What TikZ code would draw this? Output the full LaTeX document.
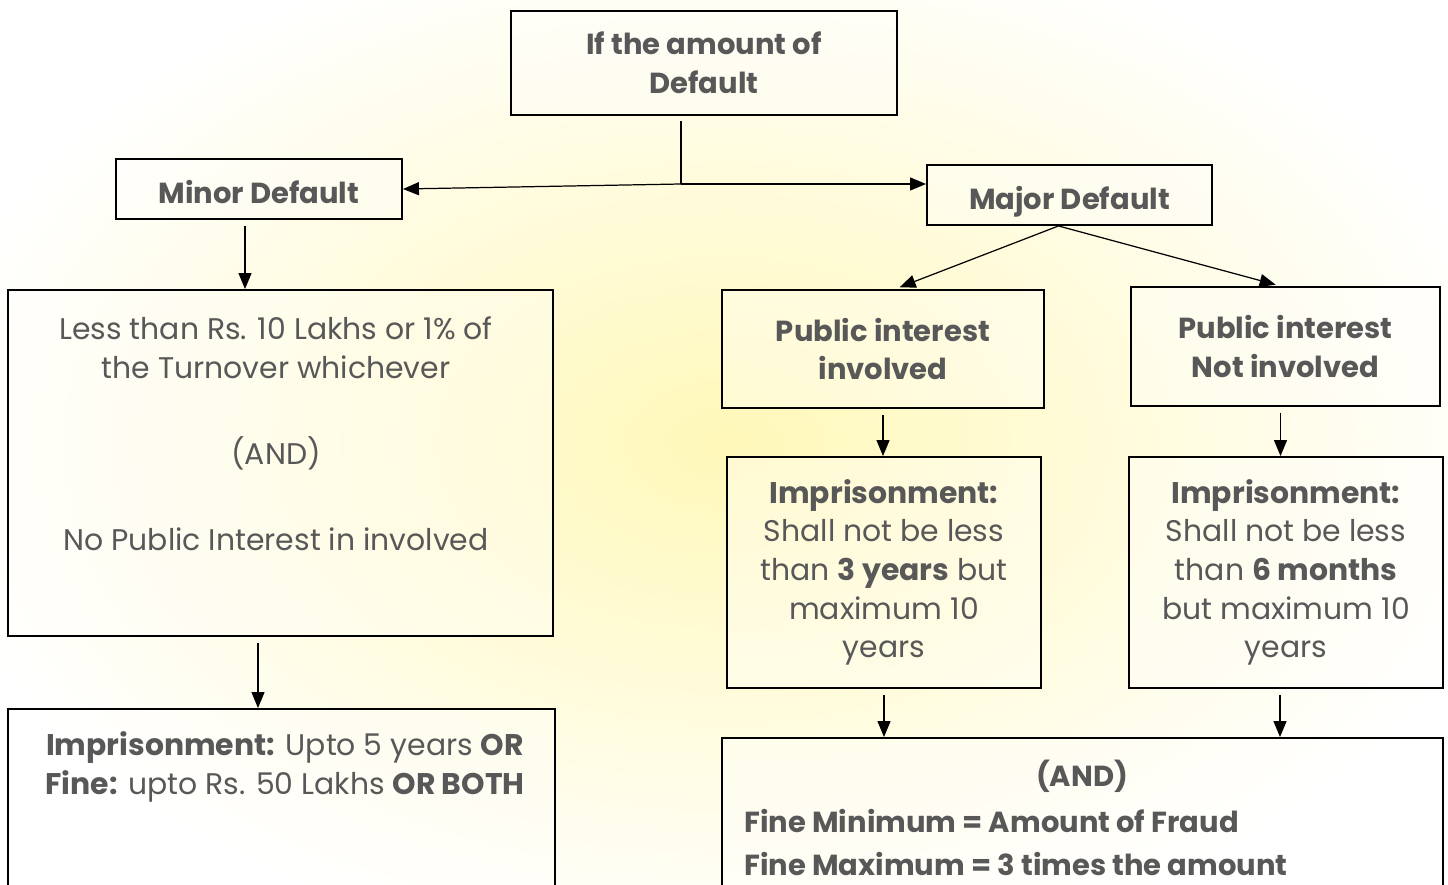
\documentclass[tikz,border=0pt]{standalone}
\usepackage{fontspec}
\setmainfont{Poppins}
\usepackage{tikz}
\usetikzlibrary{arrows.meta,positioning,calc}
\definecolor{txt}{RGB}{88,88,88}
\definecolor{bgyel}{RGB}{255,248,185}
\tikzset{
  box/.style={draw=black, line width=1.1pt, fill=white, fill opacity=0.35, text opacity=1, text=txt, align=center},
  hd/.style={font=\fontsize{16.5}{22}\selectfont\bfseries},
  bd/.style={font=\fontsize{17}{22}\selectfont},
  arr/.style={-{Triangle[length=0.32cm,width=0.26cm]}, line width=0.7pt, shorten <=0.12cm}
}

\begin{document}
\begin{tikzpicture}[x=0.02cm, y=-0.02cm]
    \useasboundingbox (0,0) rectangle (1448,885);
    \clip (0,0) rectangle (1448,885);
    \shade[inner color=bgyel, outer color=white] (-80,-80) rectangle (1528,965);

    \node [box, hd, minimum width=7.72cm, minimum height=2.08cm] (top) at (704,63) {If the amount of\\ Default};
    \node [box, hd, minimum width=5.72cm, minimum height=1.2cm, text height=20pt, text depth=3pt] (minor) at (259,189) {Minor Default};
    \node [box, hd, minimum width=5.7cm, minimum height=1.2cm, text height=20pt, text depth=3pt] (major) at (1069.5,195) {Major Default};

    \node [box, minimum width=10.9cm, minimum height=6.92cm] (less) at (280.5,463) {};
    \node [bd, text=txt, align=center] (lessT) at (276,434) {Less than Rs. 10 Lakhs or 1\% of\\ the Turnover whichever\\[0.95cm] (AND)\\[0.95cm] No Public Interest in involved};
    \node [box, minimum width=10.94cm, minimum height=3.84cm] (jail) at (281.5,805) {};
    \node [bd, text=txt, align=center] (jailT) at (285,767) {\textbf{Imprisonment:} Upto 5 years \textbf{OR}\\ \textbf{Fine:} upto Rs. 50 Lakhs \textbf{OR BOTH}};

    \node [box, hd, minimum width=6.44cm, minimum height=2.36cm] (piyes) at (883,349) {Public interest\\ involved};
    \node [box, hd, minimum width=6.18cm, minimum height=2.38cm] (pino) at (1285.5,346.5) {Public interest\\ Not involved};
    \node [box, bd, minimum width=6.28cm, minimum height=4.62cm] (impyes) at (884,572.5) {\textbf{Imprisonment:}\\ Shall not be less\\ than \textbf{3 years} but\\ maximum 10\\ years};
    \node [box, bd, minimum width=6.28cm, minimum height=4.62cm] (impno) at (1286,572.5) {\textbf{Imprisonment:}\\ Shall not be less\\ than \textbf{6 months}\\ but maximum 10\\ years};

    \node [box, minimum width=14.42cm, minimum height=3.24cm] (fine) at (1082.5,819) {};
    \node [hd, text=txt] (fineAnd) at (1082,776) {(AND)};
    \node [hd, text=txt, anchor=west, inner xsep=0pt] (fineMin) at (744,821) {Fine Minimum = Amount of Fraud};
    \node [hd, text=txt, anchor=west, inner xsep=0pt] (fineMax) at (744,864) {Fine Maximum = 3 times the amount};

    % connectors
    \coordinate (split) at (681,184);
    \draw [line width=0.7pt, shorten <=0.1cm] (split |- top.south) -- (split);
    \draw [arr, shorten <=0pt] (split) -- (minor.east);
    \draw [arr, shorten <=0pt] (split) -- (major.west |- split);
    \draw [arr] ([xshift=-0.28cm]minor.south) -- ([xshift=-0.28cm]minor.south |- less.north);
    \draw [arr] ([xshift=-0.45cm]less.south) -- ([xshift=-0.45cm]less.south |- jail.north);
    \draw [arr, shorten <=0pt, shorten >=0.1cm] ([xshift=-0.22cm]major.south) -- ([xshift=0.24cm]piyes.north);
    \draw [arr, shorten <=0pt, shorten >=0.1cm] ([xshift=-0.22cm]major.south) -- ([xshift=-0.1cm]pino.north);
    \draw [arr] (piyes.south) -- (piyes.south |- impyes.north);
    \draw [arr] ([xshift=-0.1cm]pino.south) -- ([xshift=-0.1cm]pino.south |- impno.north);
    \draw [arr] (impyes.south) -- (impyes.south |- fine.north);
    \draw [arr] ([xshift=-0.12cm]impno.south) -- ([xshift=-0.12cm]impno.south |- fine.north);
\end{tikzpicture}
\end{document}
